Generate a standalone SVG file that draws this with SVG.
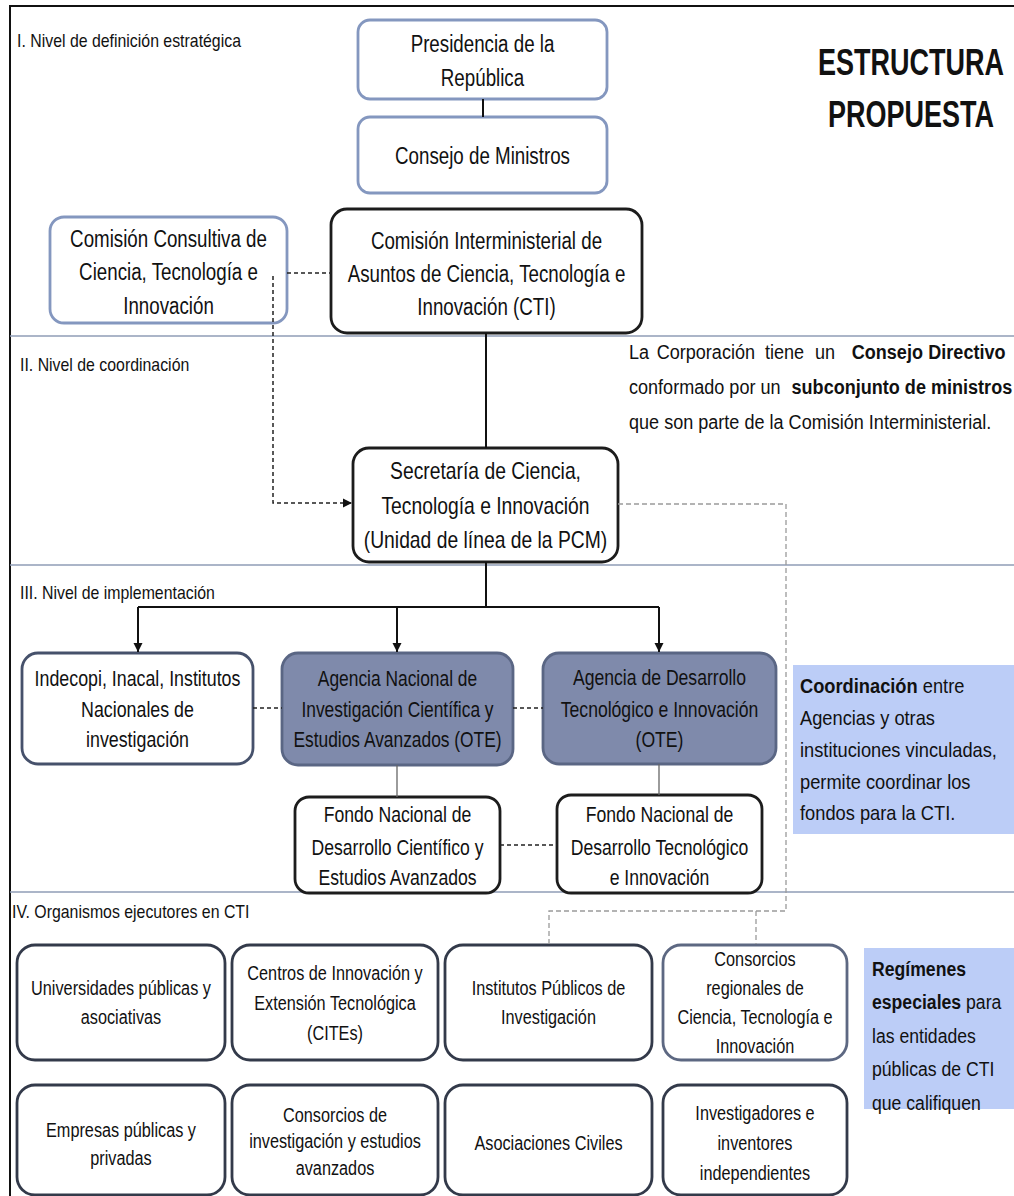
<svg xmlns="http://www.w3.org/2000/svg" width="1014" height="1196" viewBox="0 0 1014 1196">
<defs>
<marker id="arr" markerUnits="userSpaceOnUse" markerWidth="10" markerHeight="10" refX="9" refY="5" orient="auto">
<path d="M0,0.5 L9,5 L0,9.5 Z" fill="#111"/>
</marker>
<style>
text{font-family:"Liberation Sans",Arial,sans-serif;fill:#111;}
.t1{font-size:23px;text-anchor:middle;}
.t2{font-size:22px;text-anchor:middle;}
.t3{font-size:21px;text-anchor:middle;}
.lab{font-size:19px;}
.side{font-size:21px;}
.b{font-weight:bold;}
.title{font-size:36px;font-weight:bold;text-anchor:middle;}
.sep{stroke:#8f9cb6;stroke-width:1.5;fill:none;}
.nb{fill:#fff;stroke:#8497bf;stroke-width:2.8;}
.nk{fill:#fff;stroke:#1c1c1c;stroke-width:2.8;}
.ns{fill:#fff;stroke:#46516b;stroke-width:2.8;}
.na{fill:#7f8aab;stroke:#5a6684;stroke-width:2.8;}
.nd{fill:#fff;stroke:#333a4a;stroke-width:2.8;}
.nr{fill:#fff;stroke:#5d6882;stroke-width:2.8;}
.solid{stroke:#111;stroke-width:2;fill:none;}
.thin{stroke:#666;stroke-width:1.3;fill:none;}
.dash{stroke:#222;stroke-width:1.5;stroke-dasharray:4 3;fill:none;}
.gdash{stroke:#9a9a9a;stroke-width:1.3;stroke-dasharray:5 3;fill:none;}
</style>
</defs>
<rect x="0" y="0" width="1014" height="1196" fill="#fff"/>

<!-- frame and level separators -->
<g id="frame">
<path d="M10,1196 V6 H1014" stroke="#111" stroke-width="2" fill="none"/>
<line class="sep" x1="10" y1="336" x2="1014" y2="336"/>
<line class="sep" x1="10" y1="565" x2="1014" y2="565"/>
<line class="sep" x1="10" y1="892" x2="1014" y2="892"/>
</g>

<!-- level labels -->
<g id="labels">
<text class="lab" transform="translate(17 0) scale(0.835 1)" x="0" y="47">I. Nivel de definición estratégica</text>
<text class="lab" transform="translate(20 0) scale(0.835 1)" x="0" y="371">II. Nivel de coordinación</text>
<text class="lab" transform="translate(20 0) scale(0.835 1)" x="0" y="599">III. Nivel de implementación</text>
<text class="lab" transform="translate(12 0) scale(0.835 1)" x="0" y="918">IV. Organismos ejecutores en CTI</text>
</g>

<g id="title">
<text class="title" transform="translate(911 0) scale(0.75 1)"><tspan x="0" y="75">ESTRUCTURA</tspan><tspan x="0" y="127">PROPUESTA</tspan></text>
</g>

<!-- side notes -->
<g id="note-corporacion">
<text class="side" transform="translate(629 0) scale(0.86 1)"><tspan x="0" y="359">La</tspan><tspan x="32.2" y="359">Corporación</tspan><tspan x="158.1" y="359">tiene</tspan><tspan x="216.3" y="359">un</tspan><tspan x="259" y="359" class="b">Consejo</tspan><tspan x="348" y="359" class="b">Directivo</tspan><tspan x="0" y="394">conformado por un</tspan><tspan x="189" y="394" class="b">subconjunto de ministros</tspan><tspan x="0" y="429">que son parte de la Comisión Interministerial.</tspan></text>
</g>

<g id="note-coordinacion">
<rect x="793" y="665" width="221" height="169" fill="#bccdf7"/>
<text class="side" transform="translate(800 0) scale(0.87 1)"><tspan x="0" y="693" class="b">Coordinación</tspan><tspan> entre</tspan><tspan x="0" y="725">Agencias y otras</tspan><tspan x="0" y="757">instituciones vinculadas,</tspan><tspan x="0" y="789">permite coordinar los</tspan><tspan x="0" y="820">fondos para la CTI.</tspan></text>
</g>

<g id="note-regimenes">
<rect x="864" y="948" width="150" height="161" fill="#bccdf7"/>
<text class="side" transform="translate(872 0) scale(0.84 1)"><tspan x="0" y="976" class="b">Regímenes</tspan><tspan x="0" y="1009" class="b">especiales</tspan><tspan> para</tspan><tspan x="0" y="1043">las entidades</tspan><tspan x="0" y="1076">públicas de CTI</tspan><tspan x="0" y="1110">que califiquen</tspan></text>
</g>

<!-- Level I -->
<g id="presidencia">
<rect class="nb" x="358" y="20" width="249" height="79" rx="12"/>
<text class="t1" transform="translate(482.5 0) scale(0.815 1)"><tspan x="0" y="52">Presidencia de la</tspan><tspan x="0" y="86">República</tspan></text>
</g>
<g id="consejo">
<rect class="nb" x="358" y="117" width="249" height="76" rx="12"/>
<text class="t1" transform="translate(482.5 0) scale(0.815 1)"><tspan x="0" y="164">Consejo de Ministros</tspan></text>
</g>
<g id="comision-interministerial">
<rect class="nk" x="331" y="209" width="311" height="124" rx="16"/>
<text class="t1" transform="translate(486.5 0) scale(0.815 1)"><tspan x="0" y="249">Comisión Interministerial de</tspan><tspan x="0" y="282">Asuntos de Ciencia, Tecnología e</tspan><tspan x="0" y="315">Innovación (CTI)</tspan></text>
</g>
<g id="comision-consultiva">
<rect class="nb" x="50" y="217" width="237" height="106" rx="14"/>
<text class="t1" transform="translate(168.5 0) scale(0.815 1)"><tspan x="0" y="247">Comisión Consultiva de</tspan><tspan x="0" y="280">Ciencia, Tecnología e</tspan><tspan x="0" y="314">Innovación</tspan></text>
</g>

<!-- Level II -->
<g id="secretaria">
<rect class="nk" x="353" y="448" width="265" height="114" rx="16"/>
<text class="t1" transform="translate(485.5 0) scale(0.84 1)"><tspan x="0" y="479">Secretaría de Ciencia,</tspan><tspan x="0" y="514">Tecnología e Innovación</tspan><tspan x="0" y="548">(Unidad de línea de la PCM)</tspan></text>
</g>

<!-- Level III -->
<g id="indecopi">
<rect class="ns" x="22" y="653" width="231" height="111" rx="16"/>
<text class="t2" transform="translate(137.5 0) scale(0.81 1)"><tspan x="0" y="686">Indecopi, Inacal, Institutos</tspan><tspan x="0" y="717">Nacionales de</tspan><tspan x="0" y="747">investigación</tspan></text>
</g>
<g id="agencia-nacional">
<rect class="na" x="282" y="653" width="231" height="112" rx="16"/>
<text class="t2" transform="translate(397.5 0) scale(0.79 1)"><tspan x="0" y="686">Agencia Nacional de</tspan><tspan x="0" y="717">Investigación Científica y</tspan><tspan x="0" y="747">Estudios Avanzados (OTE)</tspan></text>
</g>
<g id="agencia-desarrollo">
<rect class="na" x="543" y="653" width="233" height="111" rx="16"/>
<text class="t2" transform="translate(659.5 0) scale(0.8 1)"><tspan x="0" y="685">Agencia de Desarrollo</tspan><tspan x="0" y="717">Tecnológico e Innovación</tspan><tspan x="0" y="747">(OTE)</tspan></text>
</g>
<g id="fondo-cientifico">
<rect class="nk" x="295" y="797" width="205" height="96" rx="14"/>
<text class="t2" transform="translate(397.5 0) scale(0.8 1)"><tspan x="0" y="822">Fondo Nacional de</tspan><tspan x="0" y="855">Desarrollo Científico y</tspan><tspan x="0" y="885">Estudios Avanzados</tspan></text>
</g>
<g id="fondo-tecnologico">
<rect class="nk" x="557" y="795" width="205" height="98" rx="14"/>
<text class="t2" transform="translate(659.5 0) scale(0.8 1)"><tspan x="0" y="822">Fondo Nacional de</tspan><tspan x="0" y="855">Desarrollo Tecnológico</tspan><tspan x="0" y="885">e Innovación</tspan></text>
</g>

<!-- Level IV -->
<g id="universidades">
<rect class="nd" x="17" y="945" width="208" height="115" rx="18"/>
<text class="t3" transform="translate(121 0) scale(0.775 1)"><tspan x="0" y="995">Universidades públicas y</tspan><tspan x="0" y="1024">asociativas</tspan></text>
</g>
<g id="cites">
<rect class="nd" x="232" y="945" width="206" height="115" rx="18"/>
<text class="t3" transform="translate(335 0) scale(0.775 1)"><tspan x="0" y="980">Centros de Innovación y</tspan><tspan x="0" y="1010">Extensión Tecnológica</tspan><tspan x="0" y="1040">(CITEs)</tspan></text>
</g>
<g id="institutos">
<rect class="nd" x="445" y="945" width="207" height="115" rx="18"/>
<text class="t3" transform="translate(548.5 0) scale(0.775 1)"><tspan x="0" y="995">Institutos Públicos de</tspan><tspan x="0" y="1024">Investigación</tspan></text>
</g>
<g id="consorcios-regionales">
<rect class="nr" x="663" y="945" width="184" height="115" rx="18"/>
<text class="t3" transform="translate(755 0) scale(0.775 1)"><tspan x="0" y="966">Consorcios</tspan><tspan x="0" y="995">regionales de</tspan><tspan x="0" y="1024">Ciencia, Tecnología e</tspan><tspan x="0" y="1053">Innovación</tspan></text>
</g>
<g id="empresas">
<rect class="nd" x="17" y="1085" width="208" height="110" rx="18"/>
<text class="t3" transform="translate(121 0) scale(0.775 1)"><tspan x="0" y="1137">Empresas públicas y</tspan><tspan x="0" y="1165">privadas</tspan></text>
</g>
<g id="consorcios-investigacion">
<rect class="nd" x="232" y="1085" width="206" height="110" rx="18"/>
<text class="t3" transform="translate(335 0) scale(0.775 1)"><tspan x="0" y="1122">Consorcios de</tspan><tspan x="0" y="1148">investigación y estudios</tspan><tspan x="0" y="1175">avanzados</tspan></text>
</g>
<g id="asociaciones">
<rect class="nd" x="445" y="1085" width="207" height="110" rx="18"/>
<text class="t3" transform="translate(548.5 0) scale(0.775 1)"><tspan x="0" y="1150">Asociaciones Civiles</tspan></text>
</g>
<g id="investigadores">
<rect class="nd" x="663" y="1085" width="184" height="110" rx="18"/>
<text class="t3" transform="translate(755 0) scale(0.775 1)"><tspan x="0" y="1120">Investigadores e</tspan><tspan x="0" y="1150">inventores</tspan><tspan x="0" y="1180">independientes</tspan></text>
</g>

<!-- connectors -->
<g id="connectors">
<line class="solid" x1="483" y1="99" x2="483" y2="117" stroke-width="1.5"/>
<line class="solid" x1="486" y1="333" x2="486" y2="448" stroke-width="1.5"/>
<path class="dash" d="M287,273 H331"/>
<path class="dash" d="M273,276 V503 H352" marker-end="url(#arr)"/>
<path class="solid" d="M486,562 V607"/>
<path class="solid" d="M138,607 H659"/>
<path class="solid" d="M138,607 V652" stroke-width="1.5" marker-end="url(#arr)"/>
<path class="solid" d="M397,607 V652" stroke-width="1.5" marker-end="url(#arr)"/>
<path class="solid" d="M659,607 V652" stroke-width="1.5" marker-end="url(#arr)"/>
<path class="dash" d="M253,708 H282"/>
<path class="dash" d="M513,708 H543"/>
<line class="thin" x1="397" y1="765" x2="397" y2="797"/>
<line class="thin" x1="659" y1="764" x2="659" y2="795"/>
<path class="dash" d="M500,845 H557"/>
<path class="gdash" d="M618,504 H786 V911 H549 V944"/>
<path class="gdash" d="M756,911 V944"/>
</g>
</svg>
